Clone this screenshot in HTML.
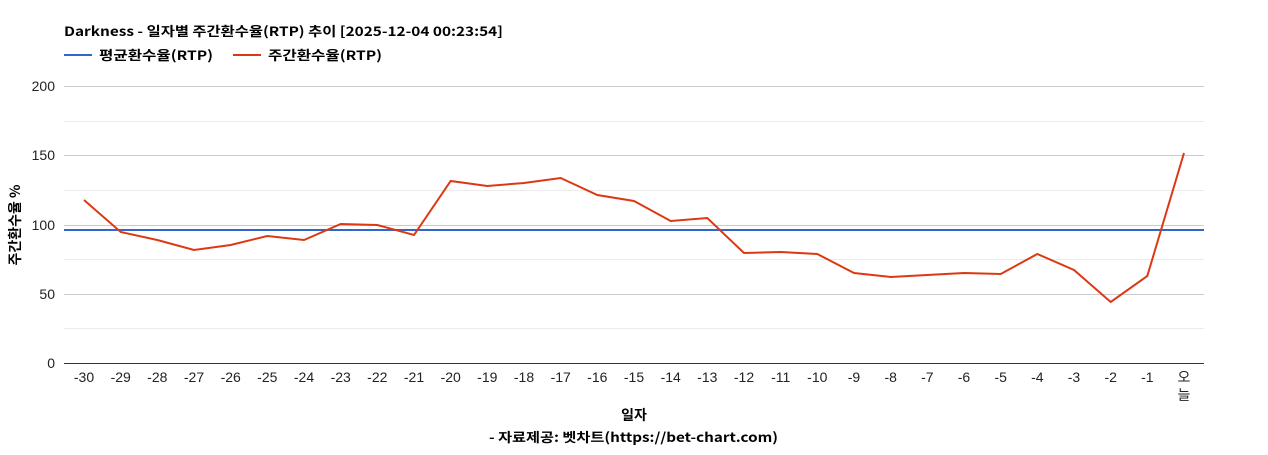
<!DOCTYPE html>
<html><head><meta charset="utf-8"><style>
body{margin:0;background:#fff;}
svg text{font-family:"Liberation Sans","Noto Sans CJK KR",sans-serif;}
svg text.b{font-family:"Noto Sans CJK KR",sans-serif;font-weight:bold;}
</style></head><body>
<svg width="1268" height="450" xmlns="http://www.w3.org/2000/svg">
<rect width="1268" height="450" fill="#fff"/>
<text class="b" x="64" y="36" font-size="13" textLength="439" lengthAdjust="spacingAndGlyphs">Darkness - 일자별 주간환수율(RTP) 추이 [2025-12-04 00:23:54]</text>
<line x1="64" y1="55" x2="92" y2="55" stroke="#3366cc" stroke-width="2"/>
<text class="b" x="99" y="60" font-size="13" textLength="114" lengthAdjust="spacingAndGlyphs">평균환수율(RTP)</text>
<line x1="233" y1="55" x2="261" y2="55" stroke="#dc3912" stroke-width="2"/>
<text class="b" x="268" y="60" font-size="13" textLength="114" lengthAdjust="spacingAndGlyphs">주간환수율(RTP)</text>
<g stroke="#ebebeb" stroke-width="1">
<line x1="64" y1="121.5" x2="1204" y2="121.5"/><line x1="64" y1="190.5" x2="1204" y2="190.5"/>
<line x1="64" y1="259.5" x2="1204" y2="259.5"/><line x1="64" y1="328.5" x2="1204" y2="328.5"/>
</g>
<g stroke="#cccccc" stroke-width="1">
<line x1="64" y1="86.5" x2="1204" y2="86.5"/><line x1="64" y1="155.5" x2="1204" y2="155.5"/>
<line x1="64" y1="225.5" x2="1204" y2="225.5"/><line x1="64" y1="294.5" x2="1204" y2="294.5"/>
</g>
<line x1="64" y1="363.5" x2="1204" y2="363.5" stroke="#333"/>
<g font-size="14" text-anchor="end" fill="#222">
<text x="55" y="91">200</text><text x="55" y="160">150</text><text x="55" y="230">100</text><text x="55" y="299">50</text><text x="55" y="368">0</text>
</g>
<text class="b" transform="translate(20,225) rotate(-90)" font-size="14" text-anchor="middle">주간환수율 %</text>
<g font-size="14" text-anchor="middle" fill="#222">
<text x="84" y="382">-30</text><text x="120.7" y="382">-29</text><text x="157.3" y="382">-28</text><text x="194" y="382">-27</text><text x="230.7" y="382">-26</text><text x="267.3" y="382">-25</text><text x="304" y="382">-24</text><text x="340.7" y="382">-23</text><text x="377.3" y="382">-22</text><text x="414" y="382">-21</text><text x="450.7" y="382">-20</text><text x="487.3" y="382">-19</text><text x="524" y="382">-18</text><text x="560.7" y="382">-17</text><text x="597.3" y="382">-16</text><text x="634" y="382">-15</text><text x="670.7" y="382">-14</text><text x="707.3" y="382">-13</text><text x="744" y="382">-12</text><text x="780.7" y="382">-11</text><text x="817.3" y="382">-10</text><text x="854" y="382">-9</text><text x="890.7" y="382">-8</text><text x="927.3" y="382">-7</text><text x="964" y="382">-6</text><text x="1000.7" y="382">-5</text><text x="1037.3" y="382">-4</text><text x="1074" y="382">-3</text><text x="1110.7" y="382">-2</text><text x="1147.3" y="382">-1</text><text x="1184" y="382">오</text><text x="1184" y="400">늘</text>
</g>
<text class="b" x="634" y="420" font-size="14" text-anchor="middle">일자</text>
<text class="b" x="489" y="442" font-size="13" textLength="289" lengthAdjust="spacingAndGlyphs">- 자료제공: 벳차트(https://bet-chart.com)</text>
<line x1="64" y1="230" x2="1204" y2="230" stroke="#3366cc" stroke-width="2"/>
<polyline fill="none" stroke="#dc3912" stroke-width="2" points="84,200 120.7,232 157.3,240 194,250 230.7,245 267.3,236 304,240 340.7,224 377.3,225 414,235 450.7,181 487.3,186 524,183 560.7,178 597.3,195 634,201 670.7,221 707.3,218 744,253 780.7,252 817.3,254 854,273 890.7,277 927.3,275 964,273 1000.7,274 1037.3,254 1074,270 1110.7,302 1147.3,276 1184,153"/>
</svg>
</body></html>
